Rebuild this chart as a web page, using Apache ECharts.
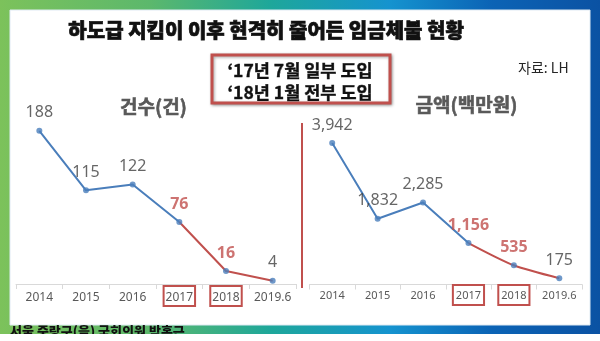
<!DOCTYPE html>
<html>
<head>
<meta charset="utf-8">
<script src="https://cdn.jsdelivr.net/npm/echarts@6/dist/echarts.min.js"></script>
<style>
  html, body { margin: 0; padding: 0; background: #fff; }
  #chart { width: 600px; height: 341px; }
</style>
</head>
<body>
<div id="chart"></div>
<script>
// Category labels shared by both panels
const years = ['2014', '2015', '2016', '2017', '2018', '2019.6'];
// Wage-arrears cases (건)
const caseCounts = [188, 115, 122, 76, 16, 4];
// Wage-arrears amount (백만원)
const amounts = [3942, 1832, 2285, 1156, 535, 175];
// Years when the subcontract guard system was introduced
const highlightYears = ['2017', '2018'];
// First index drawn on the red (post-introduction) segment
const splitIndex = 3;

const BLUE = '#4a7ebb';
const RED = '#c0504d';
const GRAY = '#404040';
const KR = '"Noto Sans CJK KR", "Noto Sans", sans-serif';
const NUM = '"Noto Sans", "Noto Sans CJK KR", sans-serif';

const fmt = v => Number(v).toLocaleString('en-US');

function labelItems(values) {
  return values.map((v, i) => {
    const hot = highlightYears.includes(years[i]);
    return {
      value: v,
      label: hot
        ? { color: RED, fontWeight: 'bold' }
        : { color: GRAY, fontWeight: 'normal' }
    };
  });
}

function panelSeries(values, idx, smoothRed) {
  return [
    {
      type: 'line', xAxisIndex: idx, yAxisIndex: idx,
      data: values.map((v, i) => (i <= splitIndex ? v : '-')),
      showSymbol: false, silent: true,
      lineStyle: { color: BLUE, width: 2 }, z: 2
    },
    {
      type: 'line', xAxisIndex: idx, yAxisIndex: idx,
      data: values.map((v, i) => (i >= splitIndex ? v : '-')),
      showSymbol: false, silent: true, smooth: smoothRed,
      lineStyle: { color: RED, width: 2 }, z: 2
    },
    {
      type: 'scatter', xAxisIndex: idx, yAxisIndex: idx,
      data: labelItems(values),
      symbolSize: 6,
      itemStyle: { color: BLUE },
      z: 4,
      label: {
        show: true, position: 'top', distance: 7,
        fontFamily: NUM, fontSize: 16,
        formatter: p => fmt(p.value)
      }
    }
  ];
}

function xAxis(idx, fontSize, lh, pad, margin) {
  return {
    type: 'category', gridIndex: idx, data: years,
    axisLine: { lineStyle: { color: '#d9d9d9', width: 1 } },
    axisTick: { show: true, interval: 0, length: 5, lineStyle: { color: '#d9d9d9' } },
    axisLabel: {
      interval: 0, hideOverlap: false,
      margin: margin,
      formatter: v => (highlightYears.includes(v) ? '{b|' + v + '}' : '{n|' + v + '}'),
      rich: {
        n: { fontFamily: NUM, fontSize: fontSize, lineHeight: lh, color: '#595959', padding: pad },
        b: { fontFamily: NUM, fontSize: fontSize, lineHeight: lh, color: '#595959', padding: pad,
             borderColor: RED, borderWidth: 2 }
      }
    }
  };
}

const chart = echarts.init(document.getElementById('chart'), null, { renderer: 'canvas' });

const option = {
  animation: false,
  backgroundColor: '#ffffff',
  grid: [
    { left: 16, top: 121, width: 280, height: 163 },
    { left: 309.5, top: 141, width: 272.5, height: 143.5 }
  ],
  xAxis: [
    xAxis(0, 12, 14, [6, 2, 2, 2], 5),
    xAxis(1, 11, 13, [5, 3, 4, 3], 4)
  ],
  yAxis: [
    { type: 'value', gridIndex: 0, min: 0, max: 200, show: false },
    { type: 'value', gridIndex: 1, min: 0, max: 4000, show: false }
  ],
  series: [
    ...panelSeries(caseCounts, 0, false),
    ...panelSeries(amounts, 1, 0.25)
  ],
  graphic: [
    // gradient frame
    {
      type: 'rect', z: -20, silent: true,
      shape: { x: 0, y: 0, width: 600, height: 334 },
      style: {
        fill: new echarts.graphic.LinearGradient(0, 0, 1, 0, [
          { offset: 0, color: '#7cc25b' },
          { offset: 0.25, color: '#5cb86c' },
          { offset: 0.45, color: '#1ea79a' },
          { offset: 0.65, color: '#1593cf' },
          { offset: 0.82, color: '#0b63b5' },
          { offset: 1, color: '#0b52a3' }
        ])
      }
    },
    {
      type: 'rect', z: -19, silent: true,
      shape: { x: 10, y: 10, width: 580, height: 315 },
      style: { fill: '#ffffff', stroke: '#dfeaf3', lineWidth: 1 }
    },
    // main title
    {
      type: 'text', left: 68, top: 20, silent: true,
      style: {
        text: '하도급 지킴이 이후 현격히 줄어든 임금체불 현황',
        font: '900 20px ' + KR, fill: '#111111',
        stroke: '#111111', lineWidth: 0.7
      }
    },
    // introduction note box
    {
      type: 'rect', silent: true,
      shape: { x: 212, y: 55, width: 178, height: 48 },
      style: {
        fill: '#ffffff', stroke: RED, lineWidth: 3,
        shadowBlur: 3, shadowColor: 'rgba(0,0,0,0.35)', shadowOffsetX: 1, shadowOffsetY: 1
      }
    },
    {
      type: 'text', silent: true, x: 300, y: 70,
      style: {
        text: '‘17년 7월 일부 도입', font: 'bold 17.5px ' + KR, fill: '#111111',
        stroke: '#111111', lineWidth: 0.4,
        align: 'center', verticalAlign: 'middle'
      }
    },
    {
      type: 'text', silent: true, x: 300, y: 92,
      style: {
        text: '‘18년 1월 전부 도입', font: 'bold 17.5px ' + KR, fill: '#111111',
        stroke: '#111111', lineWidth: 0.4,
        align: 'center', verticalAlign: 'middle'
      }
    },
    // source
    {
      type: 'text', silent: true, x: 518, y: 68,
      style: { text: '자료: LH', font: '14px ' + KR, fill: '#262626', verticalAlign: 'middle' }
    },
    // panel subtitles
    {
      type: 'text', silent: true, x: 153.5, y: 107,
      style: {
        text: '건수(건)', font: 'bold 19px ' + KR, fill: '#595959',
        stroke: '#595959', lineWidth: 0.6, align: 'center', verticalAlign: 'middle'
      }
    },
    {
      type: 'text', silent: true, x: 466.5, y: 105,
      style: {
        text: '금액(백만원)', font: 'bold 19px ' + KR, fill: '#595959',
        stroke: '#595959', lineWidth: 0.6, align: 'center', verticalAlign: 'middle'
      }
    },
    // divider between panels
    {
      type: 'line', silent: true,
      shape: { x1: 302, y1: 123, x2: 302, y2: 288 },
      style: { stroke: RED, lineWidth: 2 }
    },
    // credit line at the bottom edge
    {
      type: 'text', silent: true, x: 10, y: 325,
      style: { text: '서울 중랑구(을) 국회의원 박홍근', font: '900 13px ' + KR, fill: '#111111' }
    },
    {
      type: 'rect', silent: true, z: 200,
      shape: { x: 0, y: 334, width: 600, height: 7 },
      style: { fill: '#ffffff' }
    }
  ]
};

chart.setOption(option);
</script>
</body>
</html>
